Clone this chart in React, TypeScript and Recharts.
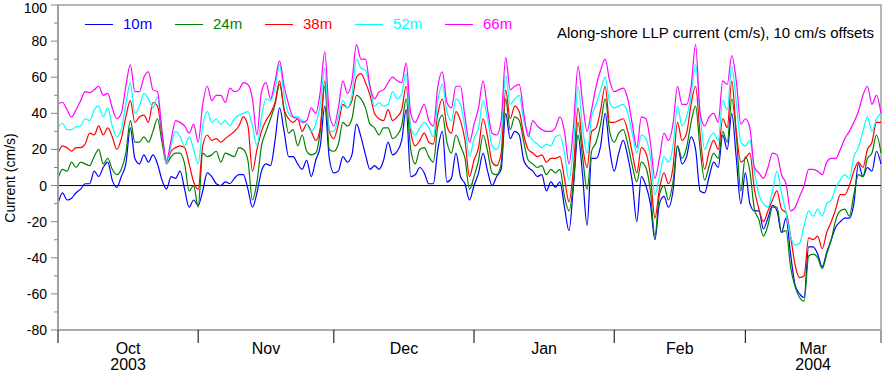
import { LineChart, Line, XAxis, YAxis, ReferenceLine, ReferenceArea } from 'recharts'

// daily samples, day 0 = 1 Oct 2003, day 182 = 31 Mar 2004
const monthStarts = [0, 31, 61, 92, 123, 152, 182]
const monthLabels = ['Oct', 'Nov', 'Dec', 'Jan', 'Feb', 'Mar']
const yearLabels = ['2003', '', '', '', '', '2004']
const yTicks = [-80, -70, -60, -50, -40, -30, -20, -10, 0, 10, 20, 30, 40, 50, 60, 70, 80, 90, 100]

// current + offset, cm/s (Oct | Nov | Dec | Jan | Feb | Mar)
const m10 = [
	-10, -4, -8, -7, -4, -2, 1, 1, 8, 5, 10, 13, 3, -1, 5, 12, 32, 15, 12, 17, 13, 17, 12, 3, -2, 5, 4, 8, -2, -12, -8,
	-11, -3, 7, 5, 1, 0, 2, 1, 4, 6, 6, -2, -12, -4, 8, 12, 11, 25, 43, 30, 16, 16, 12, 9, 14, 5, 14, 22, 44, 15,
	7, 8, 16, 13, 17, 34, 27, 17, 9, 11, 9, 14, 24, 17, 19, 25, 42, 5, 6, 10, 7, 1, 1, 20, 30, 2, 4, 18, 5, 1, -8,
	0, 7, 18, 8, 0, 5, 9, 40, 26, 30, 28, 14, 10, 8, 5, 6, -3, 2, -1, 2, -12, -25, 0, 28, 6, -22, 15, 15, 22, 40, 20,
	8, 18, 25, 16, 2, -20, 5, 0, -10, -30, -10, -6, -12, -3, 22, 12, 16, 27, 20, -3, -4, 5, 13, 10, 28, 20, 40, 15, -10,
	7, -10, -14, -14, -24, -18, -11, -14, -26, -18, -38, -55, -60, -62, -34, -34, -38, -45, -37, -30, -23, -20, -18, -18, -10, 12, 5, 10, 8, 19, 12,
]
const m24 = [
	4, 9, 8, 13, 10, 13, 12, 11, 16, 20, 12, 15, 9, 6, 9, 18, 36, 24, 24, 27, 24, 30, 37, 24, 12, 16, 18, 18, 12, -3, 0,
	-12, 18, 16, 17, 19, 13, 18, 17, 16, 21, 20, 14, -8, 2, 22, 30, 37, 45, 56, 42, 29, 31, 22, 28, 19, 17, 18, 30, 55, 20,
	19, 23, 35, 33, 37, 50, 48, 43, 34, 32, 28, 32, 32, 26, 28, 33, 48, 20, 12, 20, 21, 16, 13, 33, 39, 24, 18, 28, 22, 15, -2,
	5, 14, 28, 19, 7, 6, 12, 48, 31, 38, 36, 24, 14, 12, 10, 11, 6, 9, 7, 9, -6, -14, 2, 35, 16, -2, 19, 24, 34, 48, 30,
	24, 29, 31, 23, 11, 2, 13, 10, -3, -28, -5, 0, -8, 2, 22, 15, 21, 35, 44, 20, 3, 11, 18, 15, 30, 24, 48, 28, -3,
	16, 8, -13, -19, -28, -22, -12, -12, -26, -25, -45, -56, -62, -64, -39, -38, -40, -46, -38, -30, -19, -14, -13, -17, -5, 6, 5, 15, 18, 28, 18,
]
const m38 = [
	18, 22, 21, 19, 21, 21, 23, 29, 28, 33, 28, 32, 27, 20, 26, 38, 47, 35, 38, 39, 35, 46, 44, 28, 13, 19, 21, 22, 21, 12, 2,
	-2, 22, 28, 25, 26, 24, 26, 28, 30, 33, 38, 33, 8, 20, 30, 36, 40, 46, 58, 42, 37, 35, 37, 30, 34, 30, 25, 32, 58, 30,
	26, 34, 45, 43, 47, 60, 62, 57, 50, 40, 37, 36, 42, 36, 38, 42, 55, 30, 22, 25, 29, 24, 23, 40, 48, 33, 29, 41, 36, 25, 5,
	14, 21, 37, 27, 13, 11, 18, 53, 37, 44, 41, 28, 20, 18, 16, 17, 13, 15, 15, 16, 4, -9, 10, 43, 22, 10, 30, 32, 42, 55, 35,
	35, 36, 37, 30, 18, 7, 21, 18, 6, -18, -2, 7, 1, 10, 35, 25, 29, 45, 55, 28, 9, 19, 25, 20, 37, 32, 58, 30, 13,
	15, 18, -2, -13, -20, -14, -8, -3, -13, -15, -28, -44, -51, -50, -29, -30, -28, -35, -26, -20, -13, -5, -5, 0, 8, 13, 10, 20, 24, 35, 35,
]
const m52 = [
	32, 34.5, 31, 31, 32.5, 33, 37, 36, 42, 44, 38, 43, 33, 27, 31, 45, 57, 40, 44, 51, 48, 43, 49, 30, 12, 22, 30, 27, 22, 27, 20,
	12, 33, 41, 35, 37, 34, 36, 33, 37, 39, 40, 41, 33, 22, 38, 48, 47, 54, 67, 50, 40, 38, 38, 36, 34, 30, 34, 45, 65, 30,
	30, 38, 47, 43, 50, 70, 65, 64, 54, 44, 46, 44, 45, 52, 48, 51, 62, 32, 28, 32, 35, 32, 27, 47, 56, 41, 36, 48, 45, 32, 16,
	26, 32, 47, 37, 22, 20, 29, 61, 45, 48, 50, 36, 29, 25, 23, 21, 23, 22, 27, 28, 18, 3, 22, 55, 32, 18, 38, 45, 53, 60, 46,
	43, 44, 45, 40, 29, 18, 28, 26, 16, -5, 5, 16, 13, 22, 44, 33, 38, 50, 67, 40, 20, 26, 29, 25, 47, 42, 66, 46, 24,
	22, 25, 8, -5, -10, -12, -3, 8, -4, -15, -28, -33, -32, -22, -14, -17, -13, -17, -10, -8, -1, 3, 6, 4, 16, 21, 30, 38, 30, 37, 40,
]
const m66 = [
	45.5, 46, 42, 38, 42, 47, 52, 51.5, 53, 55, 50, 51, 43, 37, 40, 55, 67, 52, 52, 60, 63, 53, 52, 30, 14, 25, 36, 35, 33, 29, 34,
	24, 45, 55, 47, 50, 50, 46, 54, 52, 53, 57, 56, 48, 28, 52, 57, 48, 58, 69, 55, 45, 38, 37, 35, 36, 43, 40, 52, 74, 40,
	33, 43, 58, 51, 58, 78, 70, 70, 55, 48, 52, 53, 57, 60, 58, 57, 68, 40, 35, 40, 45, 36, 33, 55, 63, 46, 43, 55, 55, 38, 24,
	34, 43, 58, 42, 29, 28, 36, 71, 53, 55, 56, 40, 27, 36, 33, 31, 30, 30, 32, 38, 30, 12, 33, 66, 46, 30, 42, 55, 64, 70, 58,
	52, 53, 54, 48, 34, 21, 38, 37, 24, 4, 15, 29, 25, 34, 55, 45, 45, 55, 78, 40, 33, 38, 40, 35, 58, 56, 72, 58, 34,
	37, 32, 10, 7, 4, 10, 18, 17, 6, 1, -14, -12, -6, 0, 9, 9, 8, 6, 13, 15, 15, 20, 26, 30, 35, 41, 50, 55, 45, 50, 40,
]

const series = [
	{ key: 'm10', name: '10m', color: '#0000ff', values: m10 },
	{ key: 'm24', name: '24m', color: '#008000', values: m24 },
	{ key: 'm38', name: '38m', color: '#ff0000', values: m38 },
	{ key: 'm52', name: '52m', color: '#00ffff', values: m52 },
	{ key: 'm66', name: '66m', color: '#ff00ff', values: m66 },
]

const data = m10.map((_, i) => ({ day: i, m10: m10[i], m24: m24[i], m38: m38[i], m52: m52[i], m66: m66[i] }))

const monthMids = monthLabels.map((_, i) => (monthStarts[i] + monthStarts[i + 1]) / 2)
const xTicks = [...monthStarts, ...monthMids].sort((a, b) => a - b)

const font = '"Liberation Sans", Arial, Helvetica, sans-serif'

const MonthTick = (props: any) => {
	const { x, y, payload } = props
	const v = payload.value
	if (monthStarts.includes(v)) {
		return <line x1={x} y1={y} x2={x} y2={y + 13} stroke={v === 182 ? '#a0a0a0' : '#000'} strokeWidth={v === 182 ? 2 : 1} />
	}
	const i = monthMids.indexOf(v)
	return (
		<g>
			<text x={x} y={y + 24} textAnchor="middle" fontSize={16} fontFamily={font} fill="#000">
				{monthLabels[i]}
			</text>
			{yearLabels[i] && (
				<text x={x} y={y + 40} textAnchor="middle" fontSize={16} fontFamily={font} fill="#000">
					{yearLabels[i]}
				</text>
			)}
		</g>
	)
}

const ValueTick = (props: any) => {
	const { x, y, payload } = props
	const major = payload.value % 20 === 0
	// the top label sits right at the page edge; keep it just inside
	const dy = payload.value === 100 ? 8 : 5
	return (
		<g>
			<line x1={x - (major ? 7 : 4)} y1={y} x2={x} y2={y} stroke="#888" />
			{major && (
				<text x={x - 11} y={y + dy} textAnchor="end" fontSize={14} fontFamily={font} fill="#000">
					{payload.value}
				</text>
			)}
		</g>
	)
}

export default function App() {
	return (
		<div style={{ position: 'absolute', left: 0, top: 0, width: 885, height: 372, fontFamily: font, background: '#fff' }}>
			<LineChart width={885} height={372} data={data} margin={{ top: 5, right: 4, left: 0, bottom: 0 }} style={{ overflow: 'visible' }}>
				<ReferenceArea x1={0} x2={182} y1={-80} y2={100} fill="none" stroke="#a0a0a0" strokeWidth={1.5} ifOverflow="visible" />
				<XAxis
					dataKey="day"
					type="number"
					domain={[0, 182]}
					ticks={xTicks}
					interval={0}
					tick={<MonthTick />}
					tickLine={false}
					tickSize={0}
					tickMargin={0}
					height={42}
					axisLine={{ stroke: '#a0a0a0' }}
				/>
				<YAxis
					type="number"
					domain={[-80, 100]}
					ticks={yTicks}
					interval={0}
					tick={<ValueTick />}
					tickLine={false}
					tickSize={0}
					tickMargin={0}
					width={58}
					axisLine={{ stroke: '#a0a0a0', strokeWidth: 2 }}
				/>
				<ReferenceLine y={0} stroke="#000" strokeWidth={1} />
				{series.map((s) => (
					<Line
						key={s.key}
						dataKey={s.key}
						name={s.name}
						stroke={s.color}
						strokeWidth={1.2}
						type="monotone"
						dot={false}
						isAnimationActive={false}
					/>
				))}
			</LineChart>
			<div style={{ position: 'absolute', left: 85, top: 16, display: 'flex' }}>
				{series.map((s) => (
					<div key={s.key} style={{ width: 90, display: 'flex', alignItems: 'center', height: 16 }}>
						<div style={{ width: 28, height: 0, borderTop: `1.5px solid ${s.color}`, marginRight: 10 }} />
						<span style={{ color: s.color, fontSize: 15, lineHeight: '16px' }}>{s.name}</span>
					</div>
				))}
			</div>
			<div style={{ position: 'absolute', left: 557, top: 25, fontSize: 15, lineHeight: '16px', color: '#000', whiteSpace: 'nowrap' }}>
				Along-shore LLP current (cm/s), 10 cm/s offsets
			</div>
			<div
				style={{
					position: 'absolute',
					left: 10,
					top: 178,
					transform: 'translate(-50%, -50%) rotate(-90deg)',
					fontSize: 14,
					whiteSpace: 'nowrap',
					color: '#000',
				}}
			>
				Current (cm/s)
			</div>
		</div>
	)
}
